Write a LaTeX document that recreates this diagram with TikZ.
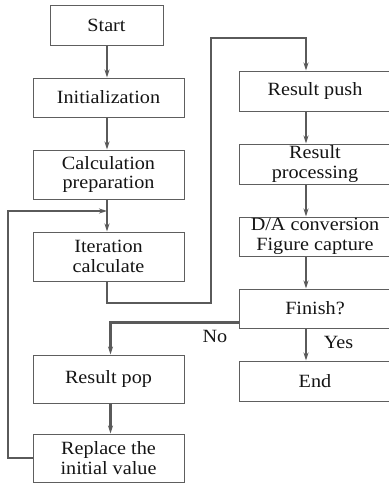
\documentclass[tikz,border=0pt]{standalone}
\usepackage{fontspec}
\setmainfont{Liberation Serif}[FakeStretch=1.08]
\usetikzlibrary{arrows.meta,calc}
\definecolor{linegray}{HTML}{5A5A5A}
\definecolor{boxgray}{HTML}{5E5E5E}
\definecolor{txt}{HTML}{141414}
\begin{document}
\begin{tikzpicture}[x=1pt,y=-1pt,
  box/.style={draw=boxgray,line width=1pt,minimum width=151pt,inner sep=0pt,align=center,text=txt,
    font=\fontsize{18.7}{19.5}\selectfont},
  conn/.style={draw=linegray,line width=2.8pt},
  arr/.style={conn,-{Stealth[length=8pt,width=5pt]}},
  lbl/.style={text=txt,font=\fontsize{18.7}{19.5}\selectfont,inner sep=0pt}]
\useasboundingbox (0,0) rectangle (389,483);
\begin{scope}
\clip (0,0) rectangle (389,483);
% left column
\node[box,minimum width=113pt,minimum height=40pt] (start) at (106.5,25) {Start};
\node[box,minimum height=39pt] (init) at (108.5,97.5) {Initialization};
\node[box,minimum height=49pt] (prep) at (108.5,174.5) {Calculation\\preparation};
\node[box,minimum height=49pt] (iter) at (108.5,256.5) {Iteration\\calculate};
\node[box,minimum height=48pt] (pop) at (108.5,379) {Result pop};
\node[box,minimum height=48pt] (repl) at (108.5,458) {Replace the\\initial value};
% right column
\node[box,minimum width=152pt,minimum height=40pt] (push) at (315,91) {Result push};
\node[box,minimum width=152pt,minimum height=40pt] (proc) at (315,164) {Result\\processing};
\node[box,minimum width=152pt,minimum height=39pt] (da) at (315,236.5) {D/A conversion\\Figure capture};
\node[box,minimum width=152pt,minimum height=39pt] (fin) at (315,308.5) {Finish?};
\node[box,minimum width=152pt,minimum height=40pt] (end) at (315,381) {End};
\end{scope}
% helper coordinates
\coordinate (lx) at (107,0);
\coordinate (px) at (110.5,0);
\coordinate (rx) at (306,0);
\coordinate (jn) at (107,211);
\coordinate (lb) at (8,0);
\coordinate (up) at (211,38);
\coordinate (lo) at (0,303);
\coordinate (no) at (0,322.5);
% left column arrows
\draw[arr] (start.south -| lx) -- (init.north -| lx);
\draw[arr] (init.south -| lx) -- (prep.north -| lx);
\draw[arr] (prep.south -| lx) -- (iter.north -| lx);
\draw[arr] (pop.south -| px) -- (repl.north -| px);
% right column arrows
\draw[arr] (push.south -| rx) -- (proc.north -| rx);
\draw[arr] (proc.south -| rx) -- (da.north -| rx);
\draw[arr] (da.south -| rx) -- (fin.north -| rx);
\draw[arr] (fin.south -| rx) -- (end.north -| rx);
% iteration -> result push loop
\draw[arr] (iter.south -| lx) -- (lx |- lo) -- (up |- lo) -- (up) -- (up -| rx) -- (push.north -| rx);
% Finish -> No -> Result pop
\draw[arr] (fin.west |- no) -- (px |- no) -- (pop.north -| px);
% feedback from replace to iteration
\draw[arr] (repl.west) -- (lb |- repl.west) -- (lb |- jn) -- (jn);
% labels
\node[lbl] (nolbl) at (215,336) {No};
\node[lbl] (yeslbl) at (338.5,342) {Yes};
\end{tikzpicture}
\end{document}
